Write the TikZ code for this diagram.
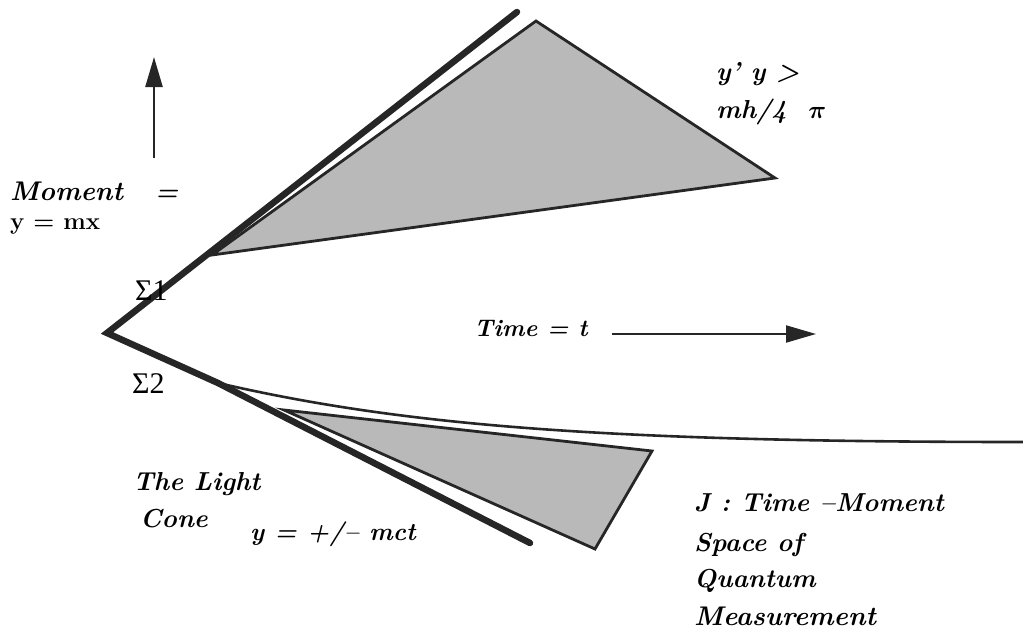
\documentclass[tikz,border=0pt]{standalone}
\usepackage{amsmath,amssymb,bm}
\usepackage{fontspec}
\newfontfamily\sigfont{Liberation Serif}
\usetikzlibrary{arrows.meta}
\begin{document}
\begin{tikzpicture}[x=1pt,y=-1pt,
  lbl/.style={anchor=base west,inner sep=0pt,font=\fontsize{26}{30}\selectfont\bfseries\itshape},
  siglbl/.style={anchor=base west,inner sep=0pt,font=\fontsize{30}{34}\sigfont},
  cone/.style={line width=6.5pt,line cap=round,line join=miter},
  region/.style={draw=black!85,line width=2.8pt,fill=gray!55,line join=miter},
  axis/.style={line width=2.5pt,-{Triangle[length=30pt,width=17pt]}}]
\useasboundingbox (0,0) rectangle (1023,632);
% cone
\coordinate (apex) at (107,333);
\coordinate (utop) at (517,12);
\coordinate (split) at (218,383);
\coordinate (lend) at (530,543);
\draw[cone,black!85] (utop) -- (apex) -- (split) -- (lend);
% curve
\coordinate (cend) at (1023,442);
\draw[line width=2.6pt,black!85] (split) .. controls (400,425) and (600,442) .. (cend);
% regions
\coordinate (a1) at (212,255);
\coordinate (a2) at (536,21);
\coordinate (a3) at (775,178);
\draw[region] (a1) -- (a2) -- (a3) -- cycle;
\coordinate (b1) at (284,410);
\coordinate (b2) at (652,451);
\coordinate (b3) at (595,549);
\draw[region] (b1) -- (b2) -- (b3) -- cycle;
% axes
\coordinate (up0) at (154,158);
\coordinate (up1) at (154,57);
\draw[axis,black!85] (up0) -- (up1);
\coordinate (r0) at (612,334);
\coordinate (r1) at (816,334);
\draw[axis,black!85,line width=2pt] (r0) -- (r1);
% labels
\node[lbl,font=\fontsize{27}{30}\selectfont\bfseries\itshape] (moment) at (10,200) {Moment};
\node[lbl] (eq) at (155,200) {=};
\node[lbl,font=\fontsize{24}{28}\selectfont\bfseries] (ymx) at (10,229) {y = mx};
\node[siglbl] (s1) at (135,300) {Σ1};
\node[siglbl] (s2) at (132,393) {Σ2};
\node[lbl] (yy) at (716,80) {y' y >};
\node[lbl] (mh) at (716,118) {mh/4\ \ $\bm{\pi}$};
\node[lbl,font=\fontsize{24}{28}\selectfont\bfseries\itshape] (time) at (474,336) {Time = t};
\node[lbl] (light) at (133,490) {The Light};
\node[lbl] (cone) at (140,527) {Cone};
\node[lbl,font=\fontsize{25}{28}\selectfont\bfseries\itshape] (ymct) at (250,540) {y = +/-- mct};
\node[lbl] (j) at (694,511) {J : Time --Moment};
\node[lbl] (space) at (694,551) {Space of};
\node[lbl] (quant) at (694,587) {Quantum};
\node[lbl,font=\fontsize{27}{30}\selectfont\bfseries\itshape] (meas) at (694,625) {Measurement};
\end{tikzpicture}
\end{document}
